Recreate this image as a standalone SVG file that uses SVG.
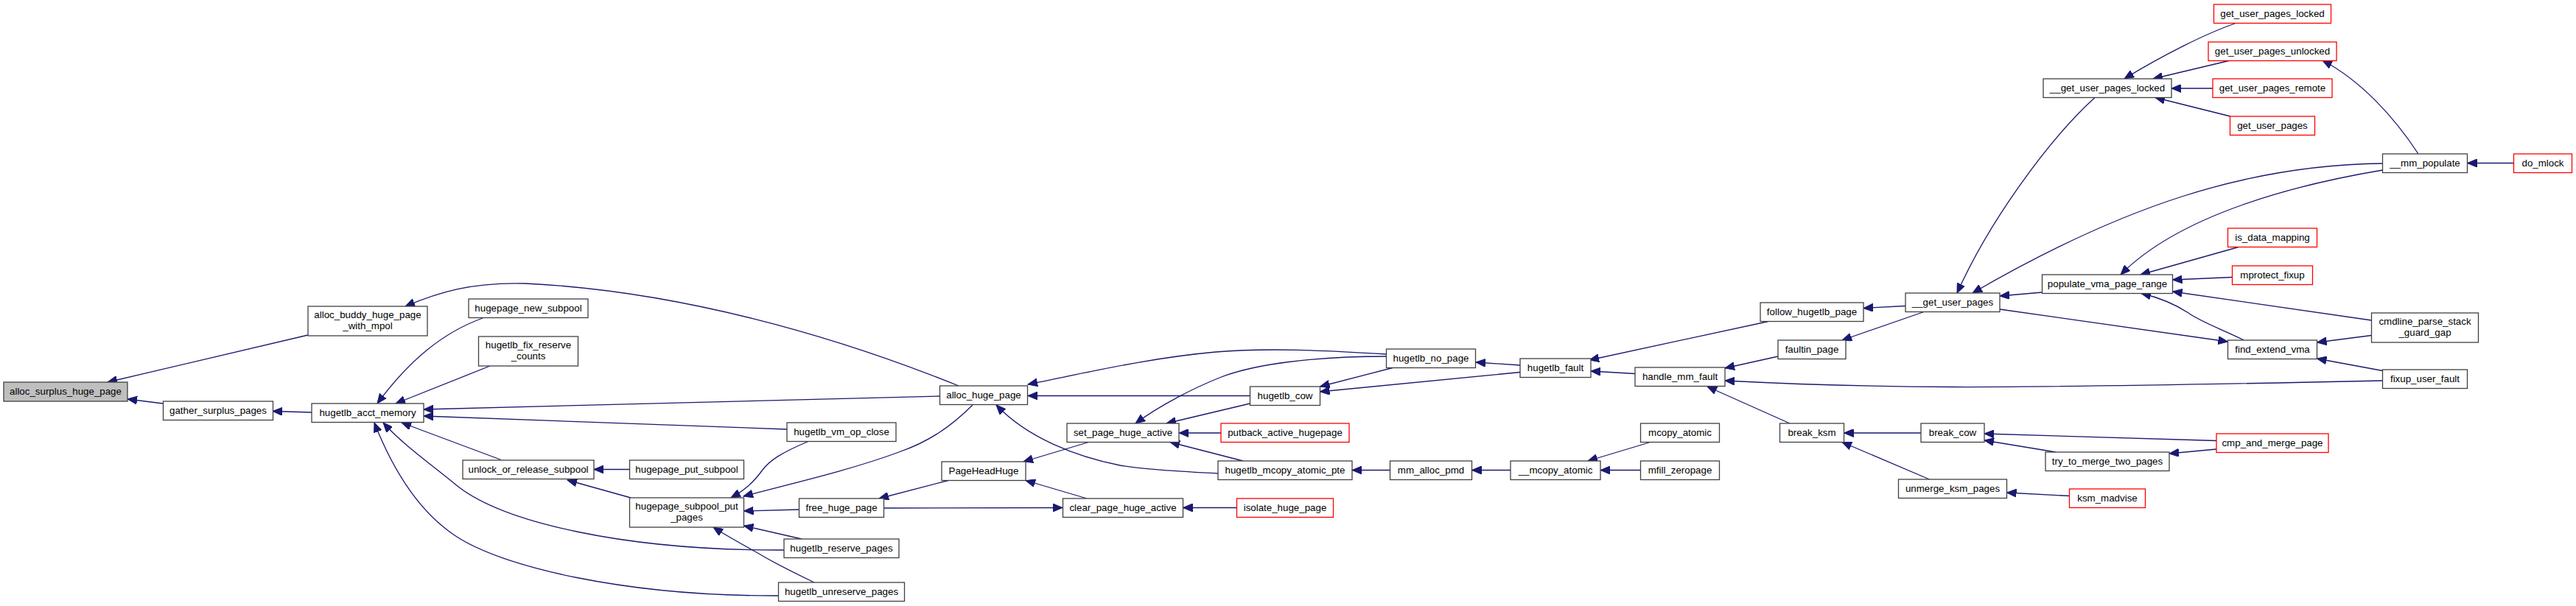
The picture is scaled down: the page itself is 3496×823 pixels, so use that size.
<svg xmlns="http://www.w3.org/2000/svg" width="3496" height="823" viewBox="0 0 3496 823">
<style>
.n rect{fill:#ffffff;stroke:#404040;stroke-width:1.3}
.n.r rect{stroke:#ff0000}
.n.root rect{fill:#bfbfbf}
text{font-family:"Liberation Sans",Arial,Helvetica,sans-serif;font-size:13.33px;text-anchor:middle;fill:#000000}
#edges path{fill:none;stroke:#191970;stroke-width:1.3;marker-end:url(#ah)}
</style>
<defs>
<marker id="ah" markerWidth="14" markerHeight="11" refX="13" refY="5.5" orient="auto" markerUnits="userSpaceOnUse">
<path d="M0,0 L13,5.5 L0,11 z" fill="#191970" stroke="#191970" stroke-width="1"/>
</marker>
</defs>
<rect x="0" y="0" width="3496" height="823" fill="#ffffff"/>
<g id="edges">
<path d="M418,455 L146,519"/>
<path d="M221,548 L173,542"/>
<path d="M423,560 L370,558.5"/>
<path d="M1301,524 C1130,455 920,395 713,385 C640,383 595,397 550,416"/>
<path d="M655,432 C600,452 555,490 512,548"/>
<path d="M665,497 L537,548"/>
<path d="M1276,538 L575,556"/>
<path d="M1068,583 L575,565"/>
<path d="M680,624.5 L545,574"/>
<path d="M1064,747 C850,748 680,710 617,657 C587,632 548,605 520,574"/>
<path d="M1057,809 C850,810 680,770 617,727 C565,692 530,630 508,574"/>
<path d="M854.5,637.5 L806,637.5"/>
<path d="M856,676 L770,652"/>
<path d="M1098,599 C1060,615 1045,625 1035,638 C1022,656 1010,666 992,676"/>
<path d="M1320,550 C1290,580 1260,600 1220,614 C1150,640 1060,660 1009,674"/>
<path d="M1085,692 L1009.5,694"/>
<path d="M1088,732 L1009.5,714"/>
<path d="M1105,791 C1080,779 1050,764 1030,752 C1005,738 985,727 968,716"/>
<path d="M1287,652.5 L1193,677"/>
<path d="M1200,690 L1442,689.5"/>
<path d="M1479,600 L1389,627"/>
<path d="M1475,677 L1392,652.5"/>
<path d="M1653,643 C1600,640 1560,638 1520,632 C1460,620 1395,595 1352,550"/>
<path d="M1882,481 C1800,476 1720,472 1650,478 C1560,486 1480,505 1395,522"/>
<path d="M1696.5,537.5 L1395,537.5"/>
<path d="M1882,484 C1780,484 1700,495 1655,513 C1620,527 1575,550 1541,575"/>
<path d="M1696.5,548 L1583,575"/>
<path d="M1657,588 L1600,588"/>
<path d="M1687,626 L1588,600.5"/>
<path d="M1678.5,689.5 L1605.5,689.5"/>
<path d="M2063,496 L2003,492"/>
<path d="M1890,499.5 L1791.5,525"/>
<path d="M2063,505.5 L1791.5,532"/>
<path d="M1886.5,638.5 L1835,638.5"/>
<path d="M2050,638.5 L1997.5,638.5"/>
<path d="M2400,436.5 L2157,489"/>
<path d="M2219,507.5 L2159,504"/>
<path d="M2238,601 L2155,626"/>
<path d="M2226.5,638.5 L2172,638.5"/>
<path d="M2586,415.5 L2529,418.5"/>
<path d="M2611,423.5 L2500,462"/>
<path d="M2413,484 L2341,500"/>
<path d="M3233.5,517 C3000,522 2800,526 2650,525.5 C2500,525 2400,520 2341,517"/>
<path d="M2429,575 L2317,525"/>
<path d="M2607,588 L2502.5,588"/>
<path d="M2618.5,651 L2500,600.5"/>
<path d="M2843,132.5 C2780,190 2700,300 2656,398"/>
<path d="M3233.5,222 C3050,224 2880,280 2677,398"/>
<path d="M2771.5,397 L2714,402"/>
<path d="M3033,32 C2995,45 2935,75 2883,107"/>
<path d="M3027,82 L2922,107"/>
<path d="M3003,120 L2947,120"/>
<path d="M3027,158 L2925,132.5"/>
<path d="M3282,209 C3250,160 3205,110 3152,82"/>
<path d="M3411.5,221.5 L3348.5,221.5"/>
<path d="M3233.5,231 C3120,250 2960,290 2878,373"/>
<path d="M3038,335.5 L2905,373"/>
<path d="M3029.5,376.5 L2948.5,380"/>
<path d="M3218.5,435 L2948.5,396"/>
<path d="M3045.5,462 C3010,445 2985,436 2970,425 C2950,412 2930,404 2906,398.5"/>
<path d="M2714,420 L3023.5,464"/>
<path d="M3218.5,455.5 L3144.5,465"/>
<path d="M3233.5,503.5 L3144.5,487"/>
<path d="M3008,598.5 L2693,589"/>
<path d="M2790,614 L2693,598"/>
<path d="M3008,610 L2944,616"/>
<path d="M2808.5,673.5 L2723.5,669"/>
</g>
<g id="n1" class="n root"><rect x="5" y="519" width="168" height="26"/><text x="89" y="536">alloc_surplus_huge_page</text></g>
<g id="n2" class="n"><rect x="418" y="416" width="162" height="40"/><text x="499" y="431.5">alloc_buddy_huge_page</text><text x="499" y="446.5">_with_mpol</text></g>
<g id="n3" class="n"><rect x="221.5" y="545" width="149" height="25.5"/><text x="296" y="562">gather_surplus_pages</text></g>
<g id="n4" class="n"><rect x="423" y="548" width="152" height="25.5"/><text x="499" y="565">hugetlb_acct_memory</text></g>
<g id="n5" class="n"><rect x="636" y="406" width="162" height="25.5"/><text x="717" y="423">hugepage_new_subpool</text></g>
<g id="n6" class="n"><rect x="649.5" y="457" width="135" height="40"/><text x="717" y="472.5">hugetlb_fix_reserve</text><text x="717" y="487.5">_counts</text></g>
<g id="n7" class="n"><rect x="628" y="625" width="178" height="25.5"/><text x="717" y="642">unlock_or_release_subpool</text></g>
<g id="n8" class="n"><rect x="854.5" y="625" width="155" height="25.5"/><text x="932" y="642">hugepage_put_subpool</text></g>
<g id="n9" class="n"><rect x="854.5" y="676" width="155" height="40"/><text x="932" y="691.5">hugepage_subpool_put</text><text x="932" y="706.5">_pages</text></g>
<g id="n10" class="n"><rect x="1275.5" y="524" width="119" height="25.5"/><text x="1335" y="541">alloc_huge_page</text></g>
<g id="n11" class="n"><rect x="1068" y="574" width="148" height="25.5"/><text x="1142" y="591">hugetlb_vm_op_close</text></g>
<g id="n12" class="n"><rect x="1084.5" y="677" width="115" height="25.5"/><text x="1142" y="694">free_huge_page</text></g>
<g id="n13" class="n"><rect x="1064" y="732" width="156" height="25.5"/><text x="1142" y="749">hugetlb_reserve_pages</text></g>
<g id="n14" class="n"><rect x="1056.5" y="791" width="171" height="25.5"/><text x="1142" y="808">hugetlb_unreserve_pages</text></g>
<g id="n15" class="n"><rect x="1278" y="627" width="114" height="25.5"/><text x="1335" y="644">PageHeadHuge</text></g>
<g id="n16" class="n"><rect x="1448" y="575" width="152" height="25.5"/><text x="1524" y="592">set_page_huge_active</text></g>
<g id="n17" class="n"><rect x="1442.5" y="677" width="163" height="25.5"/><text x="1524" y="694">clear_page_huge_active</text></g>
<g id="n18" class="n"><rect x="1881.5" y="474" width="121" height="25.5"/><text x="1942" y="491">hugetlb_no_page</text></g>
<g id="n19" class="n"><rect x="1696.5" y="525" width="95" height="25.5"/><text x="1744" y="542">hugetlb_cow</text></g>
<g id="n20" class="n r"><rect x="1657" y="575" width="174" height="25.5"/><text x="1744" y="592">putback_active_hugepage</text></g>
<g id="n21" class="n"><rect x="1653" y="626" width="182" height="25.5"/><text x="1744" y="643">hugetlb_mcopy_atomic_pte</text></g>
<g id="n22" class="n r"><rect x="1678.5" y="677" width="131" height="25.5"/><text x="1744" y="694">isolate_huge_page</text></g>
<g id="n23" class="n"><rect x="1886.5" y="626" width="111" height="25.5"/><text x="1942" y="643">mm_alloc_pmd</text></g>
<g id="n24" class="n"><rect x="2050" y="626" width="122" height="25.5"/><text x="2111" y="643">__mcopy_atomic</text></g>
<g id="n25" class="n"><rect x="2063" y="487" width="96" height="25.5"/><text x="2111" y="504">hugetlb_fault</text></g>
<g id="n26" class="n"><rect x="2219" y="499" width="122" height="25.5"/><text x="2280" y="516">handle_mm_fault</text></g>
<g id="n27" class="n"><rect x="2226.5" y="575" width="107" height="25.5"/><text x="2280" y="592">mcopy_atomic</text></g>
<g id="n28" class="n"><rect x="2226.5" y="626" width="107" height="25.5"/><text x="2280" y="643">mfill_zeropage</text></g>
<g id="n29" class="n"><rect x="2389" y="411" width="140" height="25.5"/><text x="2459" y="428">follow_hugetlb_page</text></g>
<g id="n30" class="n"><rect x="2413" y="462" width="92" height="25.5"/><text x="2459" y="479">faultin_page</text></g>
<g id="n31" class="n"><rect x="2415.5" y="575" width="87" height="25.5"/><text x="2459" y="592">break_ksm</text></g>
<g id="n32" class="n"><rect x="2586" y="398" width="128" height="25.5"/><text x="2650" y="415">__get_user_pages</text></g>
<g id="n33" class="n"><rect x="2607" y="575" width="86" height="25.5"/><text x="2650" y="592">break_cow</text></g>
<g id="n34" class="n"><rect x="2576.5" y="651" width="147" height="25.5"/><text x="2650" y="668">unmerge_ksm_pages</text></g>
<g id="n35" class="n"><rect x="2773" y="107" width="174" height="25.5"/><text x="2860" y="124">__get_user_pages_locked</text></g>
<g id="n36" class="n"><rect x="2771.5" y="373" width="177" height="25.5"/><text x="2860" y="390">populate_vma_page_range</text></g>
<g id="n37" class="n"><rect x="2776" y="614" width="168" height="25.5"/><text x="2860" y="631">try_to_merge_two_pages</text></g>
<g id="n38" class="n r"><rect x="2808.5" y="664" width="103" height="25.5"/><text x="2860" y="681">ksm_madvise</text></g>
<g id="n39" class="n r"><rect x="3004.5" y="6" width="159" height="25.5"/><text x="3084" y="23">get_user_pages_locked</text></g>
<g id="n40" class="n r"><rect x="2997" y="57" width="174" height="25.5"/><text x="3084" y="74">get_user_pages_unlocked</text></g>
<g id="n41" class="n r"><rect x="3003" y="107" width="162" height="25.5"/><text x="3084" y="124">get_user_pages_remote</text></g>
<g id="n42" class="n r"><rect x="3026.5" y="158" width="115" height="25.5"/><text x="3084" y="175">get_user_pages</text></g>
<g id="n43" class="n r"><rect x="3023.5" y="310" width="121" height="25.5"/><text x="3084" y="327">is_data_mapping</text></g>
<g id="n44" class="n r"><rect x="3029.5" y="361" width="109" height="25.5"/><text x="3084" y="378">mprotect_fixup</text></g>
<g id="n45" class="n"><rect x="3023.5" y="462" width="121" height="25.5"/><text x="3084" y="479">find_extend_vma</text></g>
<g id="n46" class="n r"><rect x="3008" y="589" width="152" height="25.5"/><text x="3084" y="606">cmp_and_merge_page</text></g>
<g id="n47" class="n"><rect x="3233.5" y="209" width="115" height="25.5"/><text x="3291" y="226">__mm_populate</text></g>
<g id="n48" class="n"><rect x="3218.5" y="425" width="145" height="40"/><text x="3291" y="440.5">cmdline_parse_stack</text><text x="3291" y="455.5">_guard_gap</text></g>
<g id="n49" class="n"><rect x="3233.5" y="502" width="115" height="25.5"/><text x="3291" y="519">fixup_user_fault</text></g>
<g id="n50" class="n r"><rect x="3411.5" y="209" width="79" height="25.5"/><text x="3451" y="226">do_mlock</text></g>
</svg>
